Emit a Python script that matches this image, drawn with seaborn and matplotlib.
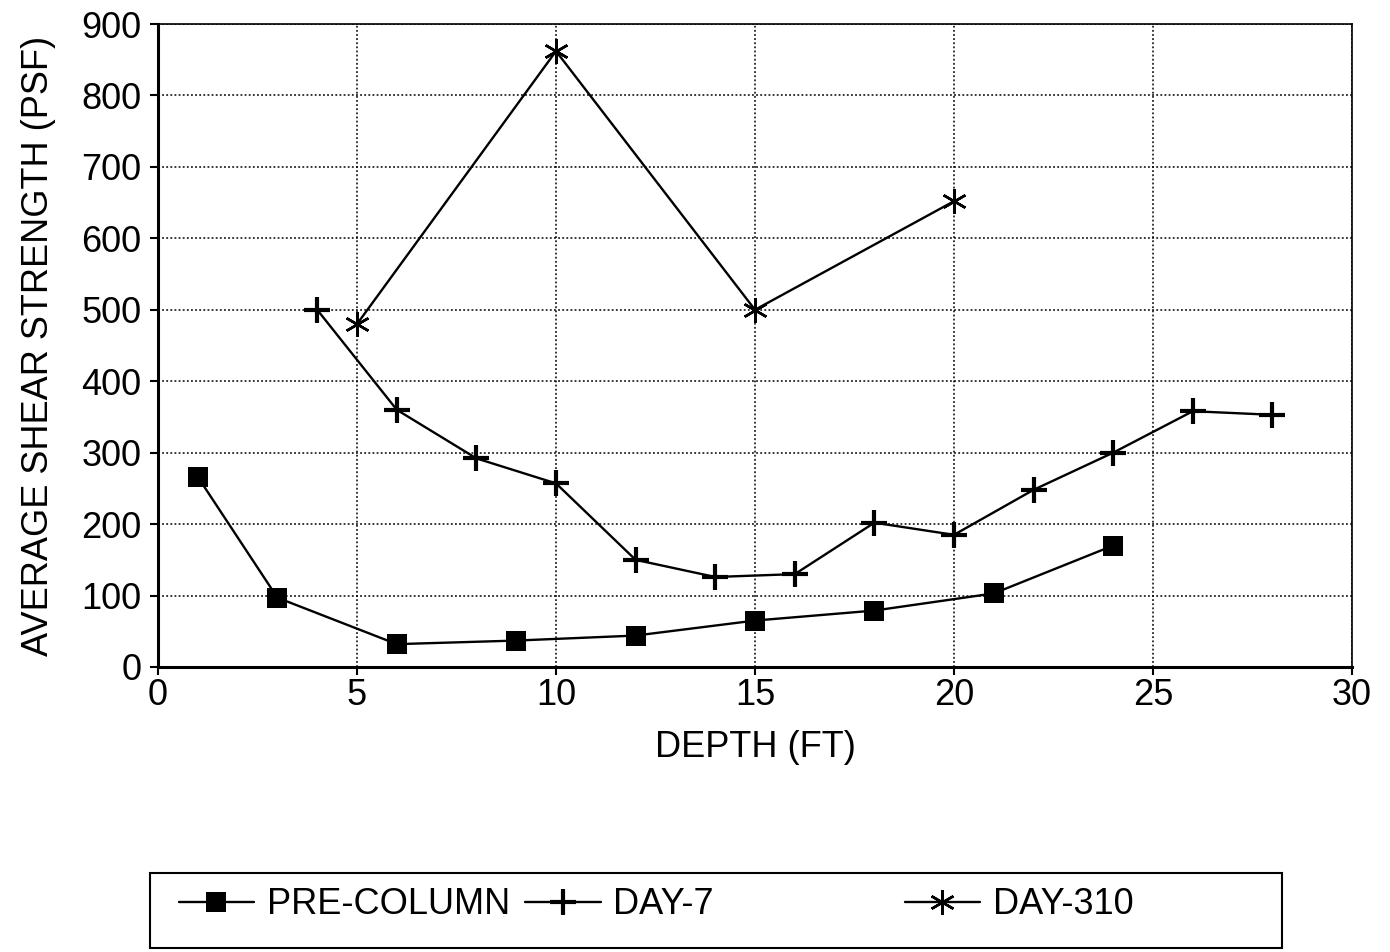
import numpy as np
import pandas as pd
import seaborn as sns
import matplotlib.pyplot as plt
from matplotlib.patches import Rectangle
from matplotlib.lines import Line2D

pre_depth = [1, 3, 6, 9, 12, 15, 18, 21, 24]
pre_val = [266, 97, 32, 37, 44, 65, 79, 103, 170]
d7_depth = [4, 6, 8, 10, 12, 14, 16, 18, 20, 22, 24, 26, 28]
d7_val = [500, 360, 292, 257, 150, 126, 130, 202, 185, 248, 300, 358, 353]
d310_depth = [5, 10, 15, 20]
d310_val = [480, 862, 500, 652]
series_names = ["PRE-COLUMN", "DAY-7", "DAY-310"]

df = pd.concat([
    pd.DataFrame({"depth": pre_depth, "val": pre_val, "series": series_names[0]}),
    pd.DataFrame({"depth": d7_depth, "val": d7_val, "series": series_names[1]}),
    pd.DataFrame({"depth": d310_depth, "val": d310_val, "series": series_names[2]}),
])

sns.set_theme(style="white")
plt.rcParams['font.family'] = ['Liberation Sans', 'DejaVu Sans']
plt.rcParams['text.color'] = 'black'

FS = 26
fig = plt.figure(figsize=(13.9, 9.52), dpi=100)
ax = fig.add_axes([158/1390, 1 - 667/952, (1352-158)/1390, (667-24)/952])

markers = {"PRE-COLUMN": "s", "DAY-7": "+", "DAY-310": (6, 2, 0)}
sizes = {"PRE-COLUMN": 15, "DAY-7": 19, "DAY-310": 18}
mews = {"PRE-COLUMN": 0, "DAY-7": 3.0, "DAY-310": 1.8}
for name in series_names:
    sub = df[df.series == name]
    sns.lineplot(data=sub, x="depth", y="val", ax=ax, color="black", lw=1.7,
                 marker=markers[name], markersize=sizes[name], markeredgewidth=mews[name],
                 markerfacecolor="black", markeredgecolor="black", legend=False, estimator=None, sort=False)

ax.set_xlim(0, 30)
ax.set_ylim(0, 900)
ax.set_xticks(range(0, 31, 5))
ax.set_yticks(range(0, 901, 100))
ax.grid(True, color="black", linestyle=(0, (1.2, 1.5)), linewidth=1.1)
ax.tick_params(axis="both", labelsize=FS, colors="black", direction="out", length=6, width=1.5, pad=2,
               bottom=True, left=True)
ax.tick_params(axis="y", pad=6)
for s in ["left", "bottom"]:
    ax.spines[s].set_linewidth(2.2)
for s in ["top", "right"]:
    ax.spines[s].set_linewidth(1.2)
for s in ax.spines.values():
    s.set_color("black")
ax.set_xlabel("DEPTH (FT)", fontsize=FS, color="black", labelpad=12)
ax.set_ylabel("AVERAGE SHEAR STRENGTH (PSF)", fontsize=FS, color="black", labelpad=18)

handles = [
    Line2D([], [], color="black", lw=1.7, marker="s", markersize=15, markeredgewidth=0),
    Line2D([], [], color="black", lw=1.7, marker="+", markersize=19, markeredgewidth=3.0),
    Line2D([], [], color="black", lw=1.7, marker=(6, 2, 0), markersize=18, markeredgewidth=1.8),
]
leg1 = fig.legend(handles[:2], series_names[:2], loc="center left",
                  bbox_to_anchor=(146/1390, 1 - 905/952), ncol=2, frameon=False,
                  fontsize=FS, handlelength=2.1, handletextpad=0.35, columnspacing=0.4,
                  labelcolor="black")
leg2 = fig.legend(handles[2:], series_names[2:], loc="center left",
                  bbox_to_anchor=(872/1390, 1 - 905/952), ncol=1, frameon=False,
                  fontsize=FS, handlelength=2.1, handletextpad=0.35, labelcolor="black")
fig.patches.append(Rectangle((150/1390, 1 - 948/952), (1282-150)/1390, (948-873)/952,
                             transform=fig.transFigure, fill=False, edgecolor="black", lw=1.5))

fig.savefig("out.png", dpi=100, facecolor="white")
